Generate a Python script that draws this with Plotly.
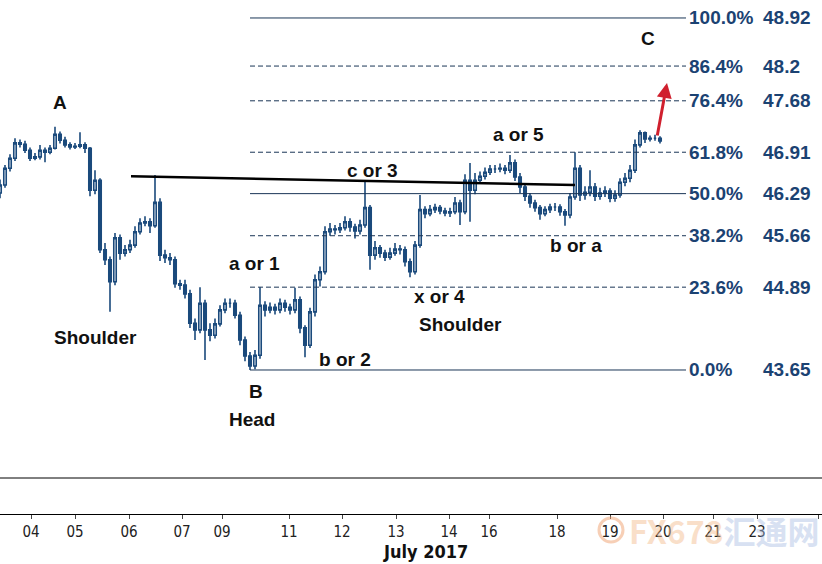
import plotly.graph_objects as go

# ---- data ----
closes = [46.42, 46.67, 46.82, 47.05, 47.03, 46.94, 46.82, 46.84, 46.94, 46.91,
          46.97, 47.18, 47.09, 47.02, 46.99, 47.00, 47.02, 46.97, 46.34, 46.49,
          45.45, 45.30, 44.97, 45.63, 45.40, 45.45, 45.52, 45.72, 45.85, 45.87,
          45.81, 46.16, 45.37, 45.33, 45.30, 44.94, 44.92, 44.79, 44.35, 44.25,
          44.65, 44.25, 44.17, 44.34, 44.55, 44.65, 44.65, 44.47, 44.10, 43.86,
          43.71, 43.87, 44.62, 44.55, 44.59, 44.55, 44.65, 44.59, 44.55, 44.70,
          44.28, 44.02, 44.52, 45.00, 45.12, 45.72, 45.76, 45.75, 45.78, 45.87,
          45.79, 45.73, 45.82, 46.08, 45.37, 45.48, 45.40, 45.34, 45.40, 45.46,
          45.45, 45.27, 45.12, 45.52, 46.05, 45.99, 46.05, 46.08, 46.03, 46.00,
          46.02, 46.15, 46.02, 46.49, 46.34, 46.49, 46.55, 46.61, 46.66, 46.66,
          46.67, 46.64, 46.75, 46.54, 46.39, 46.25, 46.15, 46.08, 45.99, 46.05,
          46.09, 46.09, 46.02, 45.97, 46.24, 46.67, 46.27, 46.31, 46.39, 46.25,
          46.30, 46.33, 46.22, 46.27, 46.46, 46.52, 46.64, 47.02, 47.20, 47.11,
          47.12, 47.12, 47.08]
highs = [46.50, 46.72, 46.88, 47.12, 47.10, 47.08, 46.98, 46.90, 47.02, 46.98,
         47.02, 47.29, 47.22, 47.14, 47.06, 47.05, 47.21, 47.06, 46.99, 46.64,
         46.52, 45.55, 45.35, 45.70, 45.68, 45.52, 45.60, 45.80, 45.92, 45.95,
         45.92, 46.57, 46.22, 45.45, 45.40, 45.35, 45.00, 45.00, 44.85, 44.42,
         44.89, 44.70, 44.35, 44.42, 44.62, 44.72, 44.72, 44.70, 44.52, 44.15,
         43.92, 43.95, 44.89, 44.68, 44.66, 44.64, 44.72, 44.70, 44.64, 44.88,
         44.75, 44.32, 44.58, 45.08, 45.20, 45.80, 45.85, 45.82, 45.85, 45.95,
         45.92, 45.84, 45.90, 46.49, 46.12, 45.58, 45.52, 45.45, 45.48, 45.55,
         45.52, 45.50, 45.32, 45.58, 46.27, 46.10, 46.12, 46.14, 46.12, 46.08,
         46.08, 46.24, 46.20, 46.58, 46.75, 46.60, 46.62, 46.68, 46.72, 46.72,
         46.74, 46.72, 46.87, 46.80, 46.60, 46.44, 46.30, 46.20, 46.12, 46.10,
         46.14, 46.15, 46.13, 46.06, 46.30, 46.91, 46.72, 46.40, 46.64, 46.45,
         46.38, 46.40, 46.37, 46.34, 46.52, 46.60, 46.72, 47.10, 47.24, 47.22,
         47.16, 47.17, 47.15]
lows = [46.22, 46.38, 46.62, 46.78, 46.98, 46.90, 46.78, 46.79, 46.80, 46.76,
        46.88, 46.95, 47.04, 46.98, 46.95, 46.96, 46.97, 46.90, 46.25, 46.28,
        45.40, 45.22, 44.52, 44.92, 45.30, 45.35, 45.40, 45.48, 45.68, 45.80,
        45.70, 45.78, 45.28, 45.25, 45.22, 44.88, 44.85, 44.72, 44.28, 44.10,
        44.20, 43.80, 44.08, 44.12, 44.30, 44.50, 44.58, 44.42, 44.02, 43.78,
        43.65, 43.66, 43.82, 44.45, 44.50, 44.48, 44.50, 44.52, 44.48, 44.50,
        44.20, 43.84, 43.98, 44.45, 44.90, 45.08, 45.66, 45.68, 45.70, 45.74,
        45.72, 45.62, 45.68, 45.78, 45.15, 45.30, 45.33, 45.28, 45.30, 45.36,
        45.38, 45.20, 45.04, 45.08, 45.48, 45.92, 45.95, 46.00, 45.98, 45.95,
        45.94, 45.98, 45.82, 45.98, 45.87, 46.28, 46.44, 46.50, 46.57, 46.60,
        46.61, 46.58, 46.60, 46.48, 46.30, 46.18, 46.08, 46.02, 45.90, 45.95,
        46.00, 46.03, 45.96, 45.81, 45.92, 46.20, 46.18, 46.20, 46.25, 46.18,
        46.20, 46.24, 46.16, 46.17, 46.23, 46.40, 46.46, 46.60, 46.98, 47.05,
        47.07, 47.08, 47.04]
first_open = 46.30
opens = [first_open] + closes[:-1]
bar_index = list(range(len(closes)))

tick_labels = ["04", "05", "06", "07", "09", "11", "12", "13", "14", "16",
               "18", "19", "20", "21", "23", "24"]
tick_index = [6.2, 15.0, 25.8, 36.4, 44.4, 57.8, 68.4, 79.2, 89.8, 97.8,
              111.4, 122.0, 132.6, 142.6, 151.4, 163.6]

fib_pct = ["100.0%", "86.4%", "76.4%", "61.8%", "50.0%", "38.2%", "23.6%", "0.0%"]
fib_price = [48.92, 48.2, 47.68, 46.91, 46.29, 45.66, 44.89, 43.65]
fib_solid = [True, False, False, False, True, False, False, True]

neck_index = [26.2, 115.0]
neck_price = [46.55, 46.42]

wave_labels = ["A", "Shoulder", "B", "Head", "a or 1", "b or 2", "c or 3",
               "x or 4", "Shoulder", "a or 5", "b or a", "C"]

# ---- layout helpers ----
W, H = 822, 564
PLOT_H = 514
Y_TOP, Y_BOT = 49.189, 41.494
X_MAX = 164.4


def px_x(px):
    return px / W * X_MAX


def px_y(py):
    return Y_TOP - py / PLOT_H * (Y_TOP - Y_BOT)


NAVY = "#1b4a7c"
LABEL = "#1b4272"

fig = go.Figure()

# fib lines
for pct, price, solid in zip(fib_pct, fib_price, fib_solid):
    fig.add_trace(go.Scatter(
        x=[px_x(250), px_x(686)], y=[price, price], mode="lines",
        line=dict(color="#1a3556", width=1, dash=None if solid else "5px,3px"),
        hoverinfo="skip", showlegend=False))

# neckline
fig.add_trace(go.Scatter(x=neck_index, y=neck_price, mode="lines",
                         line=dict(color="black", width=2.5),
                         hoverinfo="skip", showlegend=False))

fig.add_trace(go.Candlestick(
    x=bar_index, open=opens, high=highs, low=lows, close=closes,
    increasing=dict(line=dict(color=NAVY, width=1.6), fillcolor="white"),
    decreasing=dict(line=dict(color=NAVY, width=1.6), fillcolor=NAVY),
    whiskerwidth=0, showlegend=False))

annotations = []
# fib labels
for pct, price in zip(fib_pct, fib_price):
    annotations.append(dict(x=px_x(687), y=price, xref="x", yref="y", text=pct,
                            showarrow=False, xanchor="left", yanchor="middle",
                            font=dict(family="Liberation Sans", size=19, color=LABEL, weight="bold")))
    annotations.append(dict(x=px_x(761), y=price, xref="x", yref="y", text=str(price),
                            showarrow=False, xanchor="left", yanchor="middle",
                            font=dict(family="Liberation Sans", size=19, color=LABEL, weight="bold")))

label_pos = [(60, 102), (95, 337), (256, 391), (252, 419), (254, 263), (345, 359),
             (372, 170), (439, 296), (460, 324), (518, 134), (576, 245), (648, 38)]
for txt, (px, py) in zip(wave_labels, label_pos):
    annotations.append(dict(x=px_x(px), y=px_y(py), xref="x", yref="y", text=txt,
                            showarrow=False, xanchor="center", yanchor="middle",
                            font=dict(family="Liberation Sans", size=19, color="#111111", weight="bold")))

# red arrow
annotations.append(dict(x=px_x(667), y=px_y(83), ax=px_x(657), ay=px_y(137),
                        xref="x", yref="y", axref="x", ayref="y", text="",
                        showarrow=True, arrowhead=2, arrowsize=1, arrowwidth=3,
                        arrowcolor="#d0202e"))

# axis title
annotations.append(dict(x=px_x(425), y=-(551 - PLOT_H) / PLOT_H, xref="x", yref="paper",
                        text="July 2017", showarrow=False, xanchor="center", yanchor="middle",
                        font=dict(family="DejaVu Sans Condensed, Liberation Sans Narrow", size=18,
                                  color="#111111", weight="bold")))

# watermark (faint, as in the reference)
annotations.append(dict(x=px_x(627), y=-(530 - PLOT_H) / PLOT_H, xref="x", yref="paper",
                        text="<span style='color:#f3b98a'>FX678</span><span style='color:#a9bde3'>汇通网</span>",
                        showarrow=False, xanchor="left", yanchor="middle", opacity=0.45,
                        font=dict(family="Noto Sans CJK SC", size=32, weight="bold")))

shapes = [
    dict(type="line", xref="paper", yref="paper", x0=0, x1=1,
         y0=1 - 478 / PLOT_H, y1=1 - 478 / PLOT_H, line=dict(color="black", width=1)),
    dict(type="circle", xref="x", yref="paper", x0=px_x(599), x1=px_x(623),
         y0=-(542 - PLOT_H) / PLOT_H, y1=-(518 - PLOT_H) / PLOT_H,
         line=dict(color="rgba(240,160,110,0.5)", width=3)),
]

fig.update_layout(
    width=W, height=H,
    margin=dict(l=0, r=0, t=0, b=H - PLOT_H),
    paper_bgcolor="white", plot_bgcolor="white",
    showlegend=False,
    annotations=annotations, shapes=shapes,
    xaxis=dict(range=[0, X_MAX], rangeslider=dict(visible=False), showgrid=False,
               zeroline=False, showline=True, linecolor="black", linewidth=1,
               tickmode="array", tickvals=tick_index, ticktext=tick_labels,
               ticks="outside", ticklen=4, tickcolor="#444",
               tickfont=dict(family="DejaVu Sans Condensed, Liberation Sans Narrow", size=15, color="#222")),
    yaxis=dict(range=[Y_BOT, Y_TOP], visible=False, showgrid=False, zeroline=False),
)

fig.write_html("out.html")
